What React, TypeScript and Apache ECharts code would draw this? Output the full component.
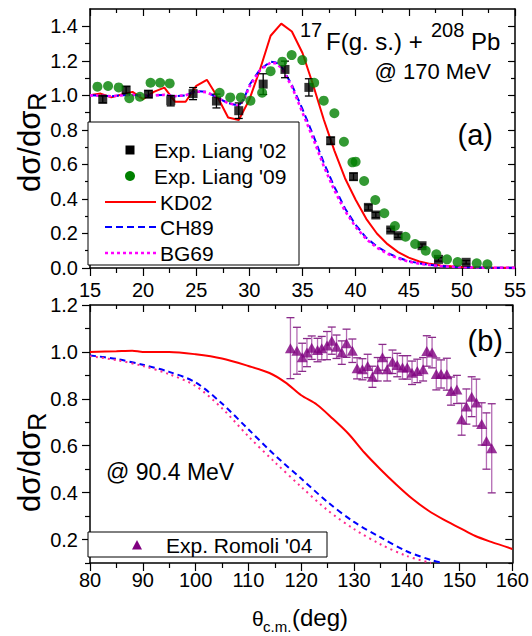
import React, { useEffect, useRef } from 'react';
import * as echarts from 'echarts';

const FONT = "'Liberation Sans', Arial, Helvetica, sans-serif";

// ---------- Panel (a): 17F + 208Pb @ 170 MeV ----------
const liang02X = [16.2, 18.4, 20.5, 22.6, 24.7, 26.9, 29.0, 31.3, 33.35, 35.6, 37.65, 39.8, 41.2, 41.9, 43.3, 44.0, 46.25, 47.8, 50.4];
const liang02Y = [0.977, 1.031, 1.007, 0.969, 1.01, 0.967, 0.911, 1.065, 1.15, 1.046, 0.737, 0.529, 0.351, 0.307, 0.22, 0.187, 0.129, 0.05, 0.033];
const liang02Err = [0.02, 0.02, 0.02, 0.03, 0.035, 0.04, 0.045, 0.06, 0.048, 0.05, 0.02, 0.02, 0.015, 0.015, 0.01, 0.01, 0.01, 0.01, 0.01];

const liang09X = [15.7, 16.7, 17.7, 18.7, 19.7, 20.7, 21.6, 22.5, 27.2, 28.2, 29.2, 30.1, 31.2, 32.0, 33.1, 33.98, 34.98, 36.1, 37.0, 38.0, 38.9, 39.7, 40.0, 40.8, 41.85, 42.7, 43.7, 44.7, 45.6, 46.6, 47.6, 48.6, 49.6, 51.4, 52.4];
const liang09Y = [1.05, 1.054, 1.046, 0.983, 0.992, 1.073, 1.073, 1.069, 1.015, 0.988, 0.988, 0.969, 1.015, 1.14, 1.195, 1.233, 1.204, 1.073, 0.969, 0.896, 0.731, 0.612, 0.616, 0.504, 0.394, 0.317, 0.243, 0.181, 0.139, 0.10, 0.079, 0.05, 0.035, 0.027, 0.021];

const kdTopX = [15, 16, 17, 18, 19, 20, 21, 22, 23, 24, 25, 26, 27, 28, 29, 30, 31, 32, 33, 34, 35, 36, 37, 38, 39, 40, 41, 42, 43, 44, 45, 46, 47, 48, 49, 50, 51, 52, 53, 54, 55];
const kdTopY = [1.0, 1.01, 0.988, 1.005, 1.02, 0.978, 1.02, 1.045, 0.963, 0.963, 1.055, 1.09, 0.99, 0.872, 0.857, 0.975, 1.15, 1.345, 1.415, 1.37, 1.245, 1.06, 0.86, 0.68, 0.52, 0.395, 0.285, 0.2, 0.138, 0.092, 0.06, 0.038, 0.024, 0.015, 0.01, 0.006, 0.004, 0.003, 0.002, 0.001, 0.001];

const chTopX = [15, 16, 17, 18, 19, 20, 21, 22, 23, 24, 25, 26, 27, 28, 29, 29.5, 30, 31, 32, 32.5, 33, 34, 35, 36, 37, 38, 39, 40, 41, 42, 43, 44, 45, 46, 47, 48, 49, 50, 52, 55];
const chTopY = [1.0, 0.998, 0.995, 1.0, 1.003, 0.997, 1.0, 1.003, 0.995, 1.0, 1.025, 1.02, 0.985, 0.955, 0.94, 0.98, 1.06, 1.15, 1.195, 1.19, 1.17, 1.06, 0.92, 0.77, 0.61, 0.47, 0.345, 0.25, 0.175, 0.125, 0.087, 0.06, 0.04, 0.027, 0.018, 0.012, 0.008, 0.005, 0.002, 0.001];

const bgTopX = [15, 16, 17, 18, 19, 20, 21, 22, 23, 24, 25, 26, 27, 28, 29, 29.5, 30, 31, 32, 32.5, 33, 34, 35, 36, 37, 38, 39, 40, 41, 42, 43, 44, 45, 46, 47, 48, 49, 50, 52, 55];
const bgTopY = [1.0, 0.998, 0.995, 1.0, 1.003, 0.997, 1.0, 1.003, 0.995, 1.0, 1.022, 1.018, 0.985, 0.955, 0.94, 0.975, 1.05, 1.145, 1.19, 1.185, 1.16, 1.05, 0.9, 0.75, 0.59, 0.45, 0.33, 0.238, 0.167, 0.118, 0.082, 0.056, 0.037, 0.025, 0.017, 0.011, 0.007, 0.005, 0.002, 0.001];

// ---------- Panel (b): @ 90.4 MeV ----------
const romoliX = [117.97, 119.2, 120.2, 121.1, 122.0, 123.1, 123.9, 124.9, 125.8, 126.7, 127.7, 128.6, 129.7, 130.6, 131.6, 132.6, 133.5, 134.5, 135.4, 136.3, 137.3, 138.2, 139.2, 140.1, 141.0, 142.0, 143.1, 143.8, 144.8, 145.6, 146.5, 147.6, 148.4, 149.5, 150.4, 151.3, 152.3, 153.2, 154.2, 155.1, 156.1];
const romoliY = [1.016, 1.005, 0.977, 0.997, 1.018, 1.008, 1.016, 1.027, 1.048, 1.022, 0.997, 1.037, 1.005, 0.93, 0.926, 0.94, 0.894, 0.926, 0.977, 0.926, 0.958, 0.944, 0.934, 0.934, 0.911, 0.919, 0.926, 1.004, 0.997, 0.906, 0.906, 0.905, 0.833, 0.84, 0.713, 0.767, 0.809, 0.784, 0.693, 0.62, 0.589];
const romoliErr = [0.13, 0.1, 0.06, 0.06, 0.05, 0.05, 0.05, 0.06, 0.058, 0.05, 0.05, 0.06, 0.05, 0.045, 0.045, 0.05, 0.045, 0.05, 0.055, 0.05, 0.05, 0.05, 0.05, 0.05, 0.05, 0.05, 0.05, 0.065, 0.065, 0.068, 0.06, 0.068, 0.06, 0.06, 0.068, 0.075, 0.085, 0.1, 0.09, 0.12, 0.19];

const kdBotX = [80, 85, 88, 90, 95, 100, 105, 110, 114, 117, 120, 123, 126, 129, 132, 135, 138, 141, 144, 147, 150, 153, 156, 160];
const kdBotY = [1.0, 1.003, 1.005, 1.0, 1.0, 0.99, 0.972, 0.94, 0.91, 0.87, 0.815, 0.775, 0.715, 0.65, 0.57, 0.5, 0.435, 0.375, 0.325, 0.285, 0.25, 0.215, 0.19, 0.16];

const chBotX = [80, 85, 90, 95, 100, 105, 110, 115, 120, 125, 130, 135, 140, 145, 147];
const chBotY = [0.985, 0.97, 0.945, 0.915, 0.87, 0.78, 0.67, 0.56, 0.46, 0.36, 0.275, 0.21, 0.15, 0.11, 0.1];

const bgBotX = [80, 85, 90, 95, 100, 105, 110, 115, 120, 125, 130, 135, 140, 144.6];
const bgBotY = [0.982, 0.965, 0.94, 0.905, 0.855, 0.76, 0.64, 0.53, 0.425, 0.325, 0.245, 0.18, 0.13, 0.1];

// tick values
const topMajor = [0, 0.2, 0.4, 0.6, 0.8, 1.0, 1.2, 1.4];
const topMinor = [0.1, 0.3, 0.5, 0.7, 0.9, 1.1, 1.3];
const botMajor = [0.2, 0.4, 0.6, 0.8, 1.0, 1.2];
const botMinor = [0.1, 0.3, 0.5, 0.7, 0.9, 1.1];

const zip = (xs: number[], ys: number[]) => xs.map((x, i) => [x, ys[i]]);

const lineSt = { color: '#000', width: 1.5 };
const tickSt = { color: '#000', width: 1.2 };

function xa(grid: number, min: number, max: number, interval: number, pos: string, inside: boolean, labels: boolean, margin = 10) {
  return {
    type: 'value', gridIndex: grid, min, max, interval, position: pos,
    axisLine: { show: true, onZero: false, lineStyle: lineSt },
    axisTick: { show: true, inside, length: inside ? 7 : 8, lineStyle: tickSt },
    minorTick: { show: true, splitNumber: 2, length: inside ? 4 : 5, lineStyle: tickSt },
    axisLabel: { show: labels, fontSize: 20, color: '#000', fontFamily: FONT, margin },
    splitLine: { show: false }, minorSplitLine: { show: false },
  };
}

function ya(grid: number, min: number, max: number, pos: string, inside: boolean, labels: boolean, values: number[], len: number, line: boolean) {
  return {
    type: 'value', gridIndex: grid, min, max, position: pos,
    axisLine: { show: line, onZero: false, lineStyle: lineSt },
    axisTick: { show: true, inside, length: len, customValues: values, lineStyle: tickSt },
    axisLabel: {
      show: labels, customValues: values, fontSize: 20, color: '#000', fontFamily: FONT, margin: 12,
      formatter: (v: number) => v.toFixed(1),
    },
    splitLine: { show: false },
  };
}

function errBar(capHalf: number, color: string, capColor: string) {
  return (params: any, api: any) => {
    const x = api.value(0), y = api.value(1), e = api.value(2);
    const t = api.coord([x, y + e]);
    const b = api.coord([x, y - e]);
    return {
      type: 'group',
      children: [
        { type: 'line', shape: { x1: t[0], y1: t[1], x2: b[0], y2: b[1] }, style: { stroke: color, lineWidth: 1.3 } },
        { type: 'line', shape: { x1: t[0] - capHalf, y1: t[1], x2: t[0] + capHalf, y2: t[1] }, style: { stroke: capColor, lineWidth: 1.3 } },
        { type: 'line', shape: { x1: b[0] - capHalf, y1: b[1], x2: b[0] + capHalf, y2: b[1] }, style: { stroke: capColor, lineWidth: 1.3 } },
      ],
    };
  };
}

function txt(text: string, x: number, y: number, size: number, align = 'left', extra: any = {}) {
  return {
    type: 'text', x, y, z: 101,
    style: { text, fontSize: size, fontFamily: FONT, fill: '#000', align, verticalAlign: 'middle', ...extra },
  };
}

function measure(text: string, size: number) {
  const c = document.createElement('canvas').getContext('2d');
  if (!c) return text.length * size * 0.55;
  c.font = `${size}px ${FONT}`;
  return c.measureText(text).width;
}

function yTitle(yStart: number) {
  const w = measure('dσ/dσ', 31);
  return {
    type: 'group', x: 29, y: yStart, rotation: Math.PI / 2, z: 101,
    children: [
      { type: 'text', x: 0, y: 0, style: { text: 'dσ/dσ', fontSize: 31, fontFamily: FONT, fill: '#000', align: 'left', verticalAlign: 'middle' } },
      { type: 'text', x: w, y: 8, style: { text: 'R', fontSize: 25, fontFamily: FONT, fill: '#000', align: 'left', verticalAlign: 'middle' } },
    ],
  };
}

export default function App() {
  const ref = useRef<HTMLDivElement>(null);
  useEffect(() => {
    document.body.style.margin = '0';
    const chart = echarts.init(ref.current!, null, { renderer: 'svg' });
    const option: any = {
      animation: false,
      textStyle: { fontFamily: FONT },
      grid: [
        { left: 90, top: 9, width: 425, height: 259 },
        { left: 90, top: 305, width: 425, height: 258 },
      ],
      xAxis: [
        xa(0, 15, 55, 5, 'bottom', false, true, 12),
        xa(0, 15, 55, 5, 'top', true, false),
        xa(1, 80, 160, 10, 'bottom', false, true, 7),
        xa(1, 80, 160, 10, 'top', true, false),
      ],
      yAxis: [
        ya(0, 0, 1.5, 'left', false, true, topMajor, 8, true),
        ya(0, 0, 1.5, 'left', false, false, topMinor, 5, false),
        ya(0, 0, 1.5, 'right', true, false, topMajor, 7, true),
        ya(0, 0, 1.5, 'right', true, false, topMinor, 4, false),
        ya(1, 0.1, 1.2, 'left', false, true, botMajor, 8, true),
        ya(1, 0.1, 1.2, 'left', false, false, botMinor, 5, false),
        ya(1, 0.1, 1.2, 'right', true, false, botMajor, 7, true),
        ya(1, 0.1, 1.2, 'right', true, false, botMinor, 4, false),
      ],
      series: [
        { type: 'line', name: 'KD02', xAxisIndex: 0, yAxisIndex: 0, data: zip(kdTopX, kdTopY), symbol: 'none', lineStyle: { color: '#ff0000', width: 2 }, z: 3 },
        { type: 'line', name: 'CH89', xAxisIndex: 0, yAxisIndex: 0, data: zip(chTopX, chTopY), symbol: 'none', lineStyle: { color: '#0000ff', width: 2, type: [7, 4] }, z: 3 },
        { type: 'line', name: 'BG69', xAxisIndex: 0, yAxisIndex: 0, data: zip(bgTopX, bgTopY), symbol: 'none', lineStyle: { color: '#ff00ff', width: 2.6, type: [3, 3] }, z: 3 },
        { type: 'custom', xAxisIndex: 0, yAxisIndex: 0, data: liang02X.map((x, i) => [x, liang02Y[i], liang02Err[i]]), encode: { x: 0, y: 1 }, renderItem: errBar(4, '#000', '#000'), z: 4 },
        { type: 'scatter', name: "Exp. Liang '02", xAxisIndex: 0, yAxisIndex: 0, data: zip(liang02X, liang02Y), symbol: 'rect', symbolSize: 9, itemStyle: { color: '#000' }, z: 5 },
        { type: 'scatter', name: "Exp. Liang '09", xAxisIndex: 0, yAxisIndex: 0, data: zip(liang09X, liang09Y), symbol: 'circle', symbolSize: 10, itemStyle: { color: '#008000' }, z: 6 },

        { type: 'line', name: 'KD02b', xAxisIndex: 2, yAxisIndex: 4, data: zip(kdBotX, kdBotY), symbol: 'none', smooth: 0.3, lineStyle: { color: '#ff0000', width: 2 }, z: 3 },
        { type: 'line', name: 'CH89b', xAxisIndex: 2, yAxisIndex: 4, data: zip(chBotX, chBotY), symbol: 'none', smooth: 0.3, lineStyle: { color: '#0000ff', width: 2, type: [6, 4] }, z: 3 },
        { type: 'line', name: 'BG69b', xAxisIndex: 2, yAxisIndex: 4, data: zip(bgBotX, bgBotY), symbol: 'none', smooth: 0.3, lineStyle: { color: '#ff2a8f', width: 2, type: [2, 4] }, z: 3 },
        { type: 'custom', xAxisIndex: 2, yAxisIndex: 4, data: romoliX.map((x, i) => [x, romoliY[i], romoliErr[i]]), encode: { x: 0, y: 1 }, renderItem: errBar(4, '#b46cb4', '#8a2a8a'), z: 4 },
        { type: 'scatter', name: "Exp. Romoli '04", xAxisIndex: 2, yAxisIndex: 4, data: zip(romoliX, romoliY), symbol: 'triangle', symbolSize: [11, 10], itemStyle: { color: '#800080' }, z: 5 },
      ],
      graphic: [
        // legend (a)
        { type: 'rect', z: 100, shape: { x: 88, y: 122, width: 211, height: 143 }, style: { fill: '#fff', stroke: '#000', lineWidth: 1 } },
        { type: 'rect', z: 101, shape: { x: 125.5, y: 145.5, width: 9, height: 9 }, style: { fill: '#000' } },
        { type: 'circle', z: 101, shape: { cx: 130, cy: 176, r: 5 }, style: { fill: '#008000' } },
        { type: 'line', z: 101, shape: { x1: 105, y1: 202, x2: 156, y2: 202 }, style: { stroke: '#ff0000', lineWidth: 2 } },
        { type: 'line', z: 101, shape: { x1: 105, y1: 227, x2: 156, y2: 227 }, style: { stroke: '#0000ff', lineWidth: 2, lineDash: [7, 4] } },
        { type: 'line', z: 101, shape: { x1: 105, y1: 253, x2: 156, y2: 253 }, style: { stroke: '#ff00ff', lineWidth: 2.6, lineDash: [3, 3] } },
        txt("Exp. Liang '02", 154, 150, 21),
        txt("Exp. Liang '09", 154, 176, 21),
        txt('KD02', 160, 202, 21),
        txt('CH89', 160, 227, 21),
        txt('BG69', 160, 253, 21),
        // legend (b)
        { type: 'rect', z: 100, shape: { x: 88, y: 532, width: 239, height: 25 }, style: { fill: '#fff', stroke: '#000', lineWidth: 1 } },
        { type: 'polygon', z: 101, shape: { points: [[137, 540], [132, 549.5], [142, 549.5]] }, style: { fill: '#800080' } },
        txt("Exp. Romoli '04", 166, 545, 21),
        // annotations
        txt('17', 300, 30, 20),
        txt('F(g. s.) + ', 326, 41, 24),
        txt('208', 431, 30, 20),
        txt('Pb', 471, 41, 24),
        txt('@ 170 MeV', 491, 71, 22, 'right'),
        txt('(a)', 493, 135, 29, 'right'),
        txt('(b)', 503, 341, 29, 'right'),
        txt('@ 90.4 MeV', 106, 472, 23),
        // axis titles
        yTitle(192),
        yTitle(512),
        txt('θ', 252, 618, 21),
        txt('c.m.', 263, 626, 15),
        txt('(deg)', 292, 617, 24),
      ],
    };
    chart.setOption(option);
    return () => chart.dispose();
  }, []);
  return <div ref={ref} style={{ width: 532, height: 636 }} />;
}
